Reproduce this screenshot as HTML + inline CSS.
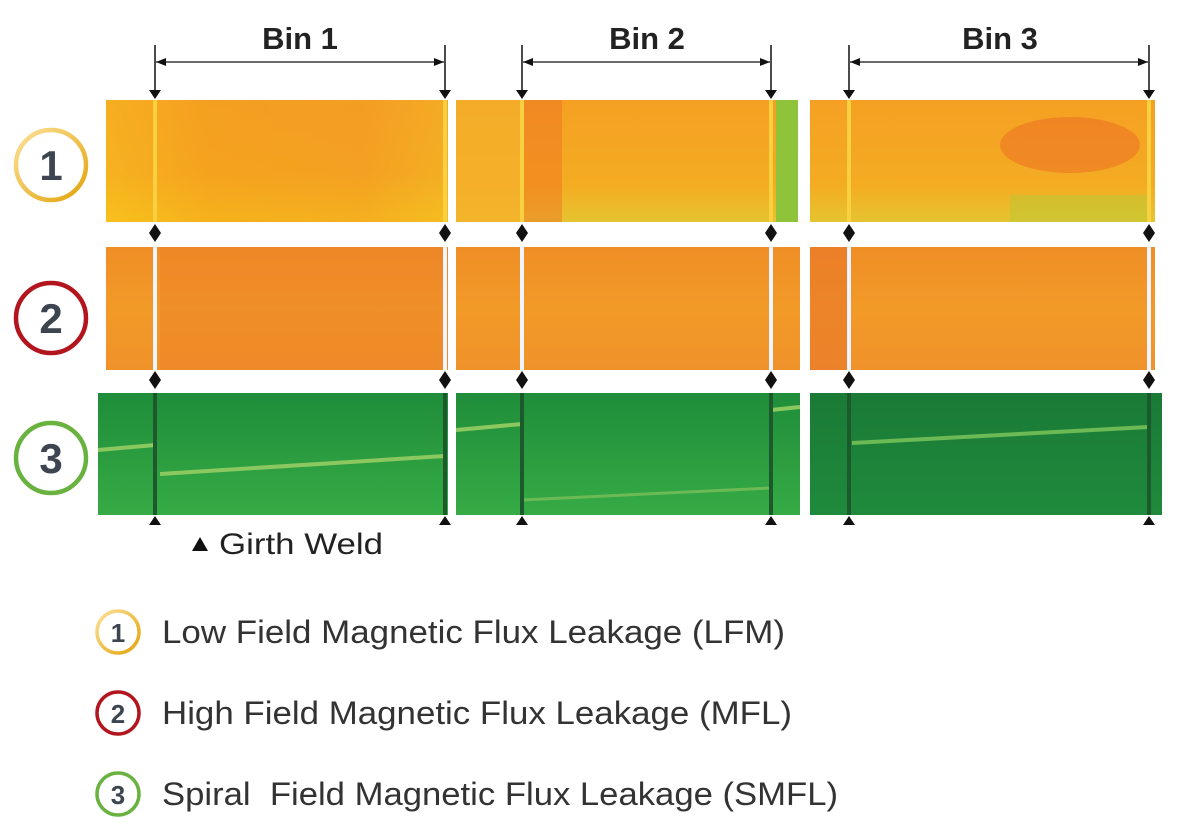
<!DOCTYPE html>
<html><head><meta charset="utf-8"><style>
html,body{margin:0;padding:0;background:#fff;}
svg{display:block;font-family:"Liberation Sans",sans-serif;}
</style></head><body>
<svg width="1182" height="832" viewBox="0 0 1182 832">
<defs>
<linearGradient id="g1" x1="0" y1="0" x2="0" y2="1"><stop offset="0" stop-color="#f6a51e"/><stop offset="0.6" stop-color="#f7ad1a"/><stop offset="1" stop-color="#f8cf14"/></linearGradient>
<linearGradient id="g1b" x1="0" y1="0" x2="1" y2="0"><stop offset="0" stop-color="#f7b624"/><stop offset="0.3" stop-color="#f39a22"/><stop offset="0.75" stop-color="#f29628"/><stop offset="1" stop-color="#f2b02a"/></linearGradient>
<linearGradient id="g1c" x1="0" y1="0" x2="0" y2="1"><stop offset="0" stop-color="#f5a023"/><stop offset="0.7" stop-color="#f4ac22"/><stop offset="1" stop-color="#e6c430"/></linearGradient>
<linearGradient id="g2" x1="0" y1="0" x2="0" y2="1"><stop offset="0" stop-color="#ef8e26"/><stop offset="0.5" stop-color="#f29a28"/><stop offset="1" stop-color="#f0922a"/></linearGradient>
<linearGradient id="g3" x1="0" y1="0" x2="0" y2="1"><stop offset="0" stop-color="#1f8d3a"/><stop offset="1" stop-color="#36ab45"/></linearGradient>
<linearGradient id="g3c" x1="0" y1="0" x2="0" y2="1"><stop offset="0" stop-color="#1a7a36"/><stop offset="1" stop-color="#1f8a3c"/></linearGradient>
<linearGradient id="c1" x1="0" y1="0" x2="1" y2="1"><stop offset="0" stop-color="#fde09a"/><stop offset="1" stop-color="#e2a40a"/></linearGradient>
<marker id="ah" markerWidth="10" markerHeight="8" refX="10" refY="4" orient="auto-start-reverse" markerUnits="userSpaceOnUse"><path d="M0,0 L10,4 L0,8 z" fill="#111"/></marker>
</defs>

<g>
<text x="300" y="49" font-size="31" font-weight="bold" fill="#222" text-anchor="middle">Bin 1</text>
<text x="647" y="49" font-size="31" font-weight="bold" fill="#222" text-anchor="middle">Bin 2</text>
<text x="1000" y="49" font-size="31" font-weight="bold" fill="#222" text-anchor="middle">Bin 3</text>
</g>
<g id="arrows"></g>

<g>
<rect x="106" y="100" width="342" height="122" fill="url(#g1b)"/>
<rect x="106" y="100" width="342" height="122" fill="url(#g1)" opacity="0.45"/>
<rect x="456" y="100" width="342" height="122" fill="url(#g1c)"/>
<rect x="456" y="100" width="66" height="122" fill="#f5b02a" opacity="0.8"/>
<rect x="522" y="100" width="40" height="122" fill="#ee6e22" opacity="0.45"/>
<rect x="776" y="100" width="22" height="122" fill="#8fc43a"/>
<rect x="810" y="100" width="345" height="122" fill="url(#g1c)"/>
<ellipse cx="1070" cy="145" rx="70" ry="28" fill="#ec6a24" opacity="0.5"/>
<rect x="1010" y="195" width="140" height="27" fill="#b9c834" opacity="0.5"/>
</g>

<g>
<rect x="106" y="247" width="342" height="123" fill="url(#g2)"/>
<rect x="160" y="247" width="288" height="123" fill="#ec7c28" opacity="0.35"/>
<rect x="456" y="247" width="344" height="123" fill="url(#g2)"/>
<rect x="810" y="247" width="345" height="123" fill="url(#g2)"/>
<rect x="810" y="247" width="40" height="123" fill="#e9762a" opacity="0.6"/>
</g>

<g>
<rect x="98" y="393" width="350" height="122" fill="url(#g3)"/>
<line x1="98" y1="450" x2="155" y2="445" stroke="#8bc860" stroke-width="4"/>
<line x1="160" y1="474" x2="445" y2="456" stroke="#8bc860" stroke-width="4"/>
<rect x="456" y="393" width="344" height="122" fill="url(#g3)"/>
<line x1="456" y1="430" x2="522" y2="424" stroke="#8bc860" stroke-width="4"/>
<line x1="522" y1="500" x2="771" y2="488" stroke="#6cba55" stroke-width="3"/>
<line x1="771" y1="410" x2="800" y2="407" stroke="#8bc860" stroke-width="4"/>
<rect x="810" y="393" width="352" height="122" fill="url(#g3c)"/>
<line x1="852" y1="443" x2="1149" y2="427" stroke="#6cba55" stroke-width="4"/>
</g>

<g id="welds"></g>

<g>
<circle cx="51" cy="165" r="35" fill="#fff" stroke="url(#c1)" stroke-width="4.5"/>
<text x="51" y="180" font-size="42" font-weight="bold" fill="#3d4550" text-anchor="middle">1</text>
<circle cx="51" cy="318" r="35" fill="#fff" stroke="#b3151e" stroke-width="4.5"/>
<text x="51" y="333" font-size="42" font-weight="bold" fill="#3d4550" text-anchor="middle">2</text>
<circle cx="51" cy="458" r="35" fill="#fff" stroke="#6ab23f" stroke-width="4.5"/>
<text x="51" y="473" font-size="42" font-weight="bold" fill="#3d4550" text-anchor="middle">3</text>
</g>

<g>
<path d="M192,551 L200,537 L208,551 Z" fill="#111"/>
<text x="219" y="554" font-size="30" fill="#222" textLength="164" lengthAdjust="spacingAndGlyphs">Girth Weld</text>
</g>

<g>
<g>
<circle cx="118" cy="632" r="21" fill="#fff" stroke="url(#c1)" stroke-width="3.5"/>
<text x="118" y="642" font-size="26" font-weight="bold" fill="#3d4550" text-anchor="middle">1</text>
<text x="162" y="643" font-size="32" fill="#333" textLength="623" lengthAdjust="spacingAndGlyphs">Low Field Magnetic Flux Leakage (LFM)</text>
</g>
<g>
<circle cx="118" cy="713" r="21" fill="#fff" stroke="#b3151e" stroke-width="3.5"/>
<text x="118" y="723" font-size="26" font-weight="bold" fill="#3d4550" text-anchor="middle">2</text>
<text x="162" y="724" font-size="32" fill="#333" textLength="630" lengthAdjust="spacingAndGlyphs">High Field Magnetic Flux Leakage (MFL)</text>
</g>
<g>
<circle cx="118" cy="794" r="21" fill="#fff" stroke="#6ab23f" stroke-width="3.5"/>
<text x="118" y="804" font-size="26" font-weight="bold" fill="#3d4550" text-anchor="middle">3</text>
<text x="162" y="805" font-size="32" fill="#333" xml:space="preserve" textLength="676" lengthAdjust="spacingAndGlyphs">Spiral  Field Magnetic Flux Leakage (SMFL)</text>
</g>
</g>
</svg>
<script>
const weldPositions = [155, 445, 522, 771, 849, 1149];
const binStarts = [155, 522, 849];
const binEnds = [445, 771, 1149];
const NS = "http://www.w3.org/2000/svg";
const W = document.getElementById('welds');
const A = document.getElementById('arrows');
function mk(tag, attrs, parent){const e=document.createElementNS(NS,tag);for(const k in attrs)e.setAttribute(k,attrs[k]);parent.appendChild(e);return e;}
weldPositions.forEach(x=>{
  [[100,222,'#f8d040'],[247,370,'#f2f4ff'],[393,515,'#1c5a2e']].forEach(r=>{
    const s=mk('rect',{x:x-2,y:r[0],width:4,height:r[1]-r[0],fill:r[2]},W);
    
    
  });
  const tris=[[90,'down'],[224,'up'],[233,'down'],[371,'up'],[380,'down'],[516,'up']];
  tris.forEach(t=>{
    const y=t[0];
    const d=t[1]==='down'?`M${x-6},${y} L${x+6},${y} L${x},${y+9} Z`:`M${x-6},${y+9} L${x+6},${y+9} L${x},${y} Z`;
    const p=mk('path',{d:d,fill:'#111'},W);
    
    
  });
  mk('line',{x1:x,y1:45,x2:x,y2:91,stroke:'#111','stroke-width':1.5},A);
});
binStarts.forEach((s,i)=>{
  const ln=mk('line',{x1:s+1,y1:62,x2:binEnds[i]-1,y2:62,stroke:'#111','stroke-width':1.3,'marker-end':'url(#ah)','marker-start':'url(#ah)'},A);
  
  
});
</script>
</body></html>
